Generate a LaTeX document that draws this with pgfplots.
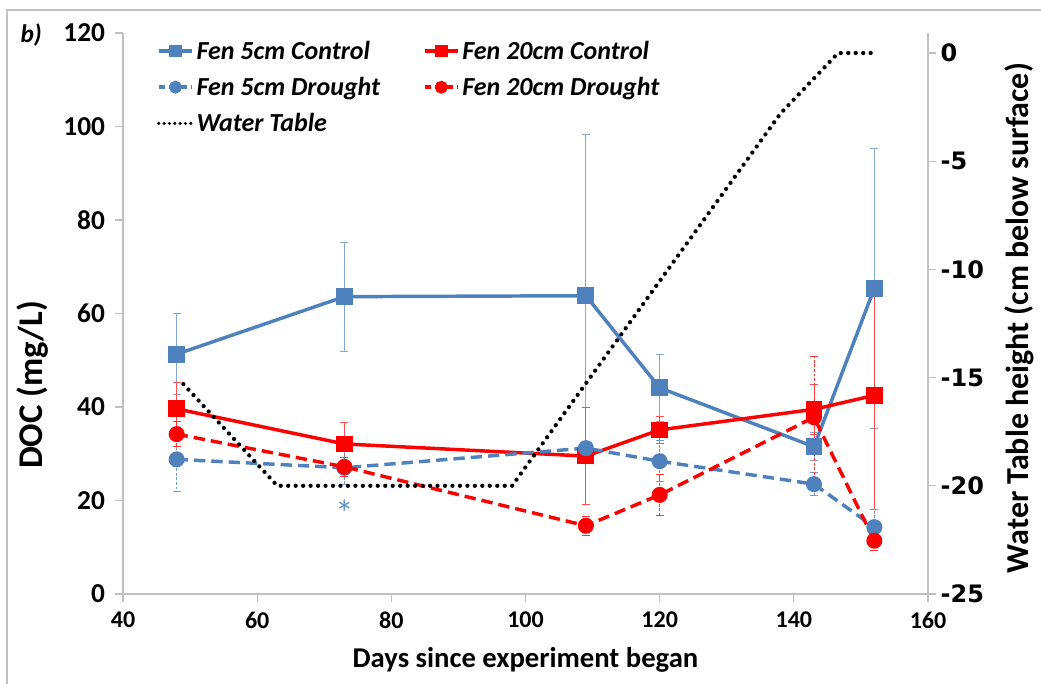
\documentclass[border=0pt]{standalone}
\usepackage{fontspec}
\setmainfont{Carlito}
\newfontfamily\dejavu{DejaVu Sans}
\usepackage{pgfplots}
\pgfplotsset{compat=1.18}
\usepackage{pgfplotstable}
\definecolor{xblue}{HTML}{4F81BD}
\definecolor{xred}{HTML}{FF0000}
\definecolor{axgray}{HTML}{C0C0C0}

\pgfplotstableread{
x y e
48 51.3 8.7
73 63.6 11.7
109 63.8 34.4
120 44.1 7.2
143 31.5 3.0
152 65.4 30.0
}\fiveC
\pgfplotstableread{
x y e
48 39.6 5.6
73 32.1 4.5
109 29.5 10.4
120 35.1 2.8
143 39.5 5.4
152 42.5 24.4
}\twentyC
\pgfplotstableread{
x y e
48 28.8 6.9
73 27.0 3.5
109 31.2 1.2
120 28.4 4.4
143 23.5 2.5
152 14.3 3.7
}\fiveD
\pgfplotstableread{
x y e
48 34.2 2.7
73 27.2 2.0
109 14.6 2.0
120 21.2 4.3
143 37.8 13.0
152 11.4 2.1
}\twentyD
\pgfplotstableread{
x y
49 -15.3
63 -20
98 -20
138 -2.8
146.6 0
152 0
}\wtable

\pgfplotsset{
  common/.style={
    width=603.75pt, height=420.75pt, scale only axis,
    xmin=40, xmax=160,
    axis line style={axgray, line width=0.9pt, -},
    tick style={axgray, line width=0.9pt},
    tick align=outside, major tick length=6pt,
    clip=false,
  },
  ctrl/.style={solid, line width=2.6pt, mark=square*, mark size=5pt, mark options={solid},
    error bars/y dir=both, error bars/y explicit,
    error bars/error bar style={line width=0.65pt, solid, #1},
    error bars/error mark options={rotate=90, mark size=3pt, line width=0.65pt, solid, #1}},
  drou/.style={line width=2.6pt, dash pattern=on 8.5pt off 4.5pt, mark=*, mark size=4.7pt, mark options={solid},
    error bars/y dir=both, error bars/y explicit,
    error bars/error bar style={line width=0.7pt, dash pattern=on 2.2pt off 1.2pt, #1},
    error bars/error mark options={rotate=90, mark size=3pt, line width=0.7pt, solid, #1}},
}

\begin{document}
\begin{tikzpicture}
\useasboundingbox (-92.25pt,-67.5pt) rectangle (688.5pt,445.5pt);
\draw[axgray, line width=1pt] (-87pt,-67.5pt) -- (-87pt,438pt) -- (688.5pt,438pt);
\begin{axis}[common,
  ymin=0, ymax=120,
  axis x line*=bottom, axis y line*=left,
  xtick={40,60,...,160}, ytick={0,20,...,120},
  /pgf/number format/assume math mode=true,
  xticklabel style={font=\fontsize{18}{21}\selectfont\bfseries, yshift=-4pt},
  yticklabel style={font=\fontsize{20.5}{24}\selectfont\bfseries, xshift=-4pt},
  xlabel={Days since experiment began},
  xlabel style={font=\fontsize{21.5}{25}\selectfont\bfseries, at={(axis description cs:0.5,-0.118)}, anchor=center},
  ylabel={DOC (mg/L)},
  ylabel style={font=\fontsize{26}{30}\selectfont\bfseries, at={(axis description cs:-0.112,0.373)}, anchor=center},
]
\addplot[xblue, ctrl={xblue!70}] table[x=x, y=y, y error=e]{\fiveC};
\addplot[xred, ctrl={xred!70}] table[x=x, y=y, y error=e]{\twentyC};
\addplot[xblue, drou={xblue!80}] table[x=x, y=y, y error=e]{\fiveD};
\addplot[xred, drou={xred!80}] table[x=x, y=y, y error=e]{\twentyD};
\node[xblue!85, font=\fontsize{28}{28}\selectfont] at (axis cs:73,17.3) {*};
\node[font=\fontsize{19}{22}\selectfont\bfseries\itshape, anchor=center] at (axis description cs:-0.114,0.996) {b)};
\end{axis}
\begin{axis}[common,
  ymin=-25, ymax=0.925,
  axis x line=none, axis y line*=right,
  ytick={-25,-20,-15,-10,-5,0},
  yticklabels={-25,-20,-15,-10,-5,0},
  yticklabel style={font=\dejavu\fontsize{18}{21}\selectfont\bfseries},
  ylabel={Water Table height (cm below surface)},
  ylabel style={font=\fontsize{24}{28}\selectfont\bfseries, at={(axis description cs:1.114,0.492)}, anchor=center},
  legend columns=2,
  legend cell align=left,
  legend style={at={(0.037,0.996)}, anchor=north west, draw=none, fill=none,
    font=\fontsize{19.5}{23}\selectfont\bfseries\itshape, row sep=8pt,
    /tikz/every even column/.append style={column sep=30pt}},
  legend image code/.code={\draw[mark repeat=2, mark phase=2] plot coordinates {(0pt,0pt) (12.5pt,0pt) (25pt,0pt)};},
]
\addplot[black, line width=3.2pt, dash pattern=on 0pt off 5.6pt, line cap=round, forget plot] table[x=x, y=y]{\wtable};
\addlegendimage{xblue, line width=2.6pt, mark=square*, mark size=3.5pt}
\addlegendentry{Fen 5cm Control}
\addlegendimage{xred, line width=2.6pt, mark=square*, mark size=3.5pt}
\addlegendentry{Fen 20cm Control}
\addlegendimage{xblue, line width=2.6pt, dash pattern=on 5pt off 3pt, mark=*, mark size=3.5pt, mark options={solid}}
\addlegendentry{Fen 5cm Drought}
\addlegendimage{xred, line width=2.6pt, dash pattern=on 5pt off 3pt, mark=*, mark size=3.5pt, mark options={solid}}
\addlegendentry{Fen 20cm Drought}
\addlegendimage{black, line width=2.6pt, dash pattern=on 0pt off 4pt, line cap=round}
\addlegendentry{Water Table}
\end{axis}
\end{tikzpicture}
\end{document}
